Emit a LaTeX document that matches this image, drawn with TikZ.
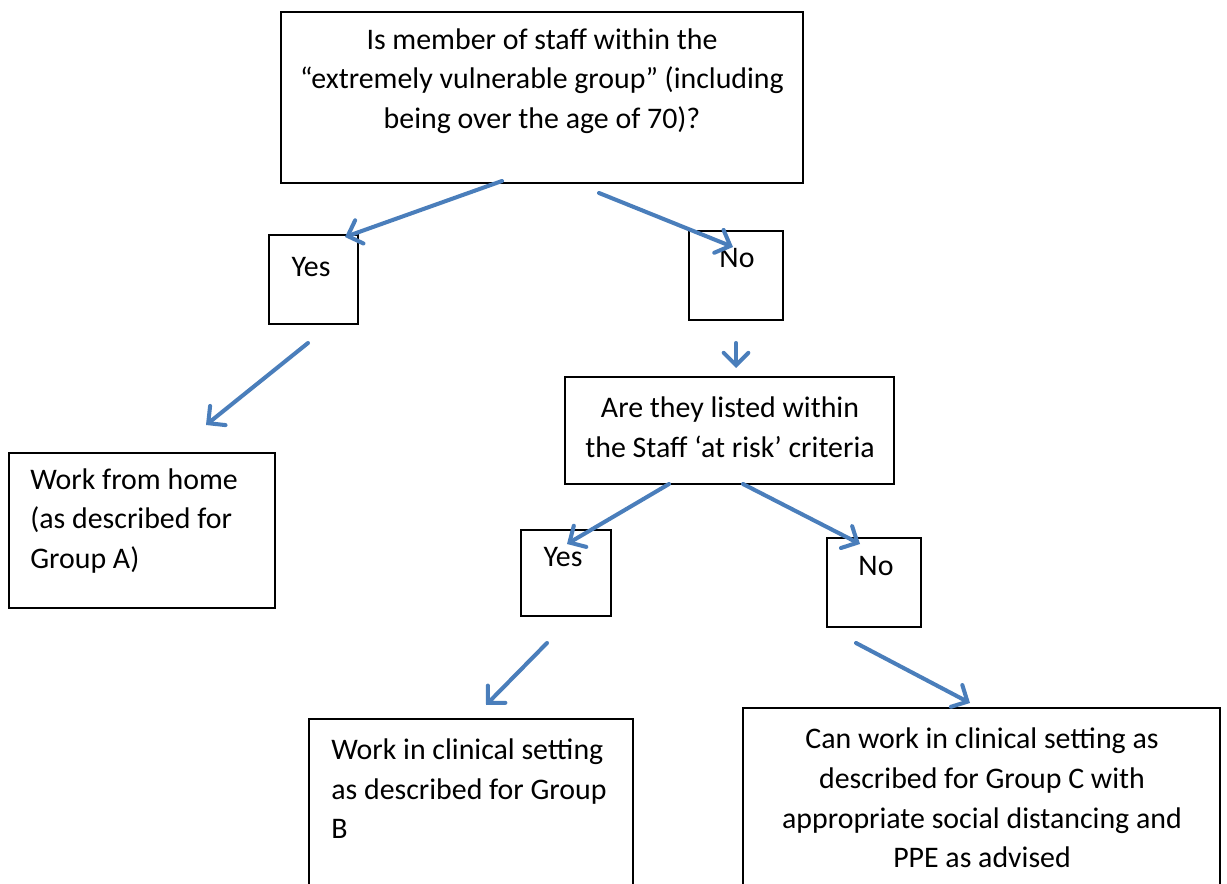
\documentclass[tikz,border=0pt]{standalone}
\usepackage{fontspec}
\setmainfont{Carlito}
\usetikzlibrary{arrows.meta, fit}
\definecolor{flowblue}{HTML}{4A7EBB}

\begin{document}
\begin{tikzpicture}[x=0.02cm, y=-0.02cm,
    box/.style={draw, line width=1.1pt, inner sep=0pt},
    txt/.style={font=\fontsize{17}{22.5}\selectfont, inner sep=0pt},
    flow/.style={draw=flowblue, line width=2.3pt, line cap=round,
      -{Straight Barb[length=7pt, width=14pt, line cap=round]}}]
  \clip (0,0) rectangle (1227,884);
  % boxes
  \node[box, fit={(281,12) (803,183)}] (q1) {};
  \node[box, fit={(269,235) (358,324)}] (y1) {};
  \node[box, fit={(689,231) (783,320)}] (n1) {};
  \node[box, fit={(9,453) (275,608)}] (home) {};
  \node[box, fit={(565,377) (894,484)}] (q2) {};
  \node[box, fit={(521,530) (611,616)}] (y2) {};
  \node[box, fit={(827,538) (921,627)}] (n2) {};
  \node[box, fit={(309,719) (633,920)}] (grpb) {};
  \node[box, fit={(743,708) (1220,920)}] (grpc) {};
  % texts
  \node[txt, align=center] (q1t) at (542,81)
    {Is member of staff within the\\“extremely vulnerable group” (including\\being over the age of 70)?};
  \node[txt] (y1t) at (311,267) {Yes};
  \node[txt] (n1t) at (737,258) {No};
  \node[txt, align=left, anchor=west] (homet) at (30,521)
    {Work from home\\(as described for\\Group A)};
  \node[txt, align=center] (q2t) at (730,427)
    {Are they listed within\\the Staff ‘at risk’ criteria};
  \node[txt] (y2t) at (563,557) {Yes};
  \node[txt] (n2t) at (876,566) {No};
  \node[txt, align=left, anchor=west] (grpbt) at (331,789)
    {Work in clinical setting\\as described for Group\\B};
  \node[txt, align=center] (grpct) at (982,798)
    {Can work in clinical setting as\\described for Group C with\\appropriate social distancing and\\PPE as advised};
  % arrow ends
  \coordinate (a1) at (502,181);  \coordinate (b1) at (345,237);
  \coordinate (a2) at (599,193);  \coordinate (b2) at (733,247);
  \coordinate (a3) at (308,343);  \coordinate (b3) at (206,425);
  \coordinate (a4) at (736,343);  \coordinate (b4) at (736,368);
  \coordinate (a5) at (669,484);  \coordinate (b5) at (567,544);
  \coordinate (a6) at (743,484);  \coordinate (b6) at (860,544);
  \coordinate (a7) at (547,643);  \coordinate (b7) at (486,705);
  \coordinate (a8) at (856,643);  \coordinate (b8) at (970,703);
  \foreach \i in {1,...,8}
    \draw[flow] (a\i) -- (b\i);
\end{tikzpicture}
\end{document}
